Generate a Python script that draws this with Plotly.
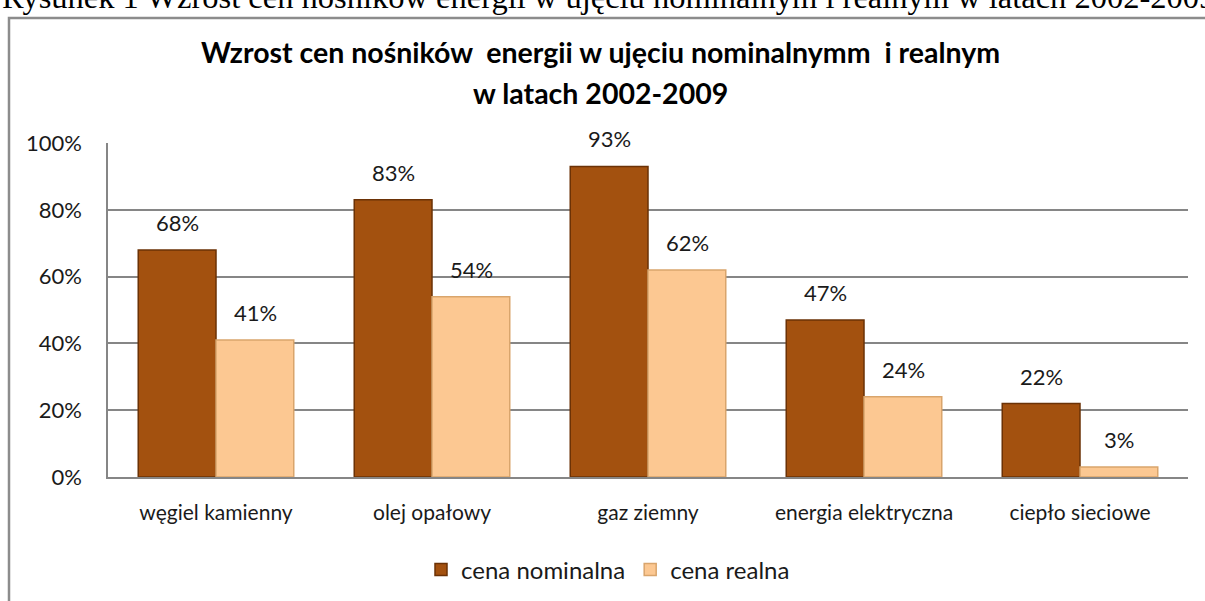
import plotly.graph_objects as go

categories = ["węgiel kamienny", "olej opałowy", "gaz ziemny", "energia elektryczna", "ciepło sieciowe"]
nominal = [0.68, 0.83, 0.93, 0.47, 0.22]
real = [0.41, 0.54, 0.62, 0.24, 0.03]
series_names = ["cena nominalna", "cena realna"]
y_ticks = [0, 0.2, 0.4, 0.6, 0.8, 1.0]
y_ticklabels = ["0%", "20%", "40%", "60%", "80%", "100%"]

W, H = 1205, 601
L, R, T, B = 108, 17, 143, 124
pw, ph = W - L - R, H - T - B

def px_x(p):
    return (p - L) / pw

def px_y(p):
    return (H - B - p) / ph

FONT = "Lato"
TXT = "#1a1a1a"
fig = go.Figure()
fig.add_trace(go.Bar(x=categories, y=nominal, name=series_names[0],
                     marker=dict(color="#A3510F", line=dict(color="#6B3206", width=1.5))))
fig.add_trace(go.Bar(x=categories, y=real, name=series_names[1],
                     marker=dict(color="#FCC892", line=dict(color="#D9A56C", width=1.5))))

# data labels
for vals, shift in ((nominal, -39), (real, 39)):
    for c, v in zip(categories, vals):
        fig.add_annotation(x=c, y=v, xref="x", yref="y", text=f"{round(v*100)}%",
                           showarrow=False, xshift=shift, yanchor="bottom", yshift=12,
                           font=dict(family=FONT, size=22, color=TXT))

# titles
fig.add_annotation(xref="paper", yref="paper", x=px_x(600), y=px_y(52), showarrow=False,
                   text="<b>Wzrost cen nośników  energii w ujęciu nominalnymm  i realnym</b>",
                   font=dict(family=FONT, size=28.5, color="#000000"), xanchor="center", yanchor="middle")
fig.add_annotation(xref="paper", yref="paper", x=px_x(600), y=px_y(93), showarrow=False,
                   text="<b>w latach 2002-2009</b>",
                   font=dict(family=FONT, size=28.5, color="#000000"), xanchor="center", yanchor="middle")
# caption (partially cut off at top edge, as in the reference)
fig.add_annotation(xref="paper", yref="paper", x=px_x(0), y=px_y(-3), showarrow=False,
                   text="Rysunek 1 Wzrost cen nośników energii w ujęciu nominalnym i realnym w latach 2002-2009",
                   font=dict(family="Liberation Serif", size=32.5, color="#000000"),
                   xanchor="left", yanchor="middle")

# outer chart frame
fig.add_shape(type="rect", xref="paper", yref="paper",
              x0=px_x(9), x1=px_x(1215), y0=px_y(615), y1=px_y(18),
              line=dict(color="#8C8C8C", width=2.5), fillcolor="rgba(0,0,0,0)", layer="below")

fig.update_layout(
    width=W, height=H,
    margin=dict(l=L, r=R, t=T, b=B, autoexpand=False),
    paper_bgcolor="white", plot_bgcolor="white",
    barmode="group", bargap=0.28, bargroupgap=0,
    font=dict(family=FONT, size=21, color=TXT),
    showlegend=True,
    legend=dict(orientation="h", x=px_x(608), y=px_y(570), xanchor="center", yanchor="middle",
                font=dict(family=FONT, size=24, color=TXT), itemwidth=30),
)
fig.update_xaxes(showline=True, linecolor="#868686", linewidth=1.5, mirror=False,
                 ticks="", ticklabelstandoff=16, tickfont=dict(size=21))
fig.update_yaxes(range=[0, 1], tickvals=y_ticks, ticktext=y_ticklabels,
                 showgrid=True, gridcolor="#868686", gridwidth=1.5,
                 showline=True, linecolor="#868686", linewidth=1.5,
                 zeroline=False, ticks="", ticklabelstandoff=20, tickfont=dict(size=22))

fig.write_html("out.html", config={"displayModeBar": False},
               post_script="document.body.style.margin='0';")
